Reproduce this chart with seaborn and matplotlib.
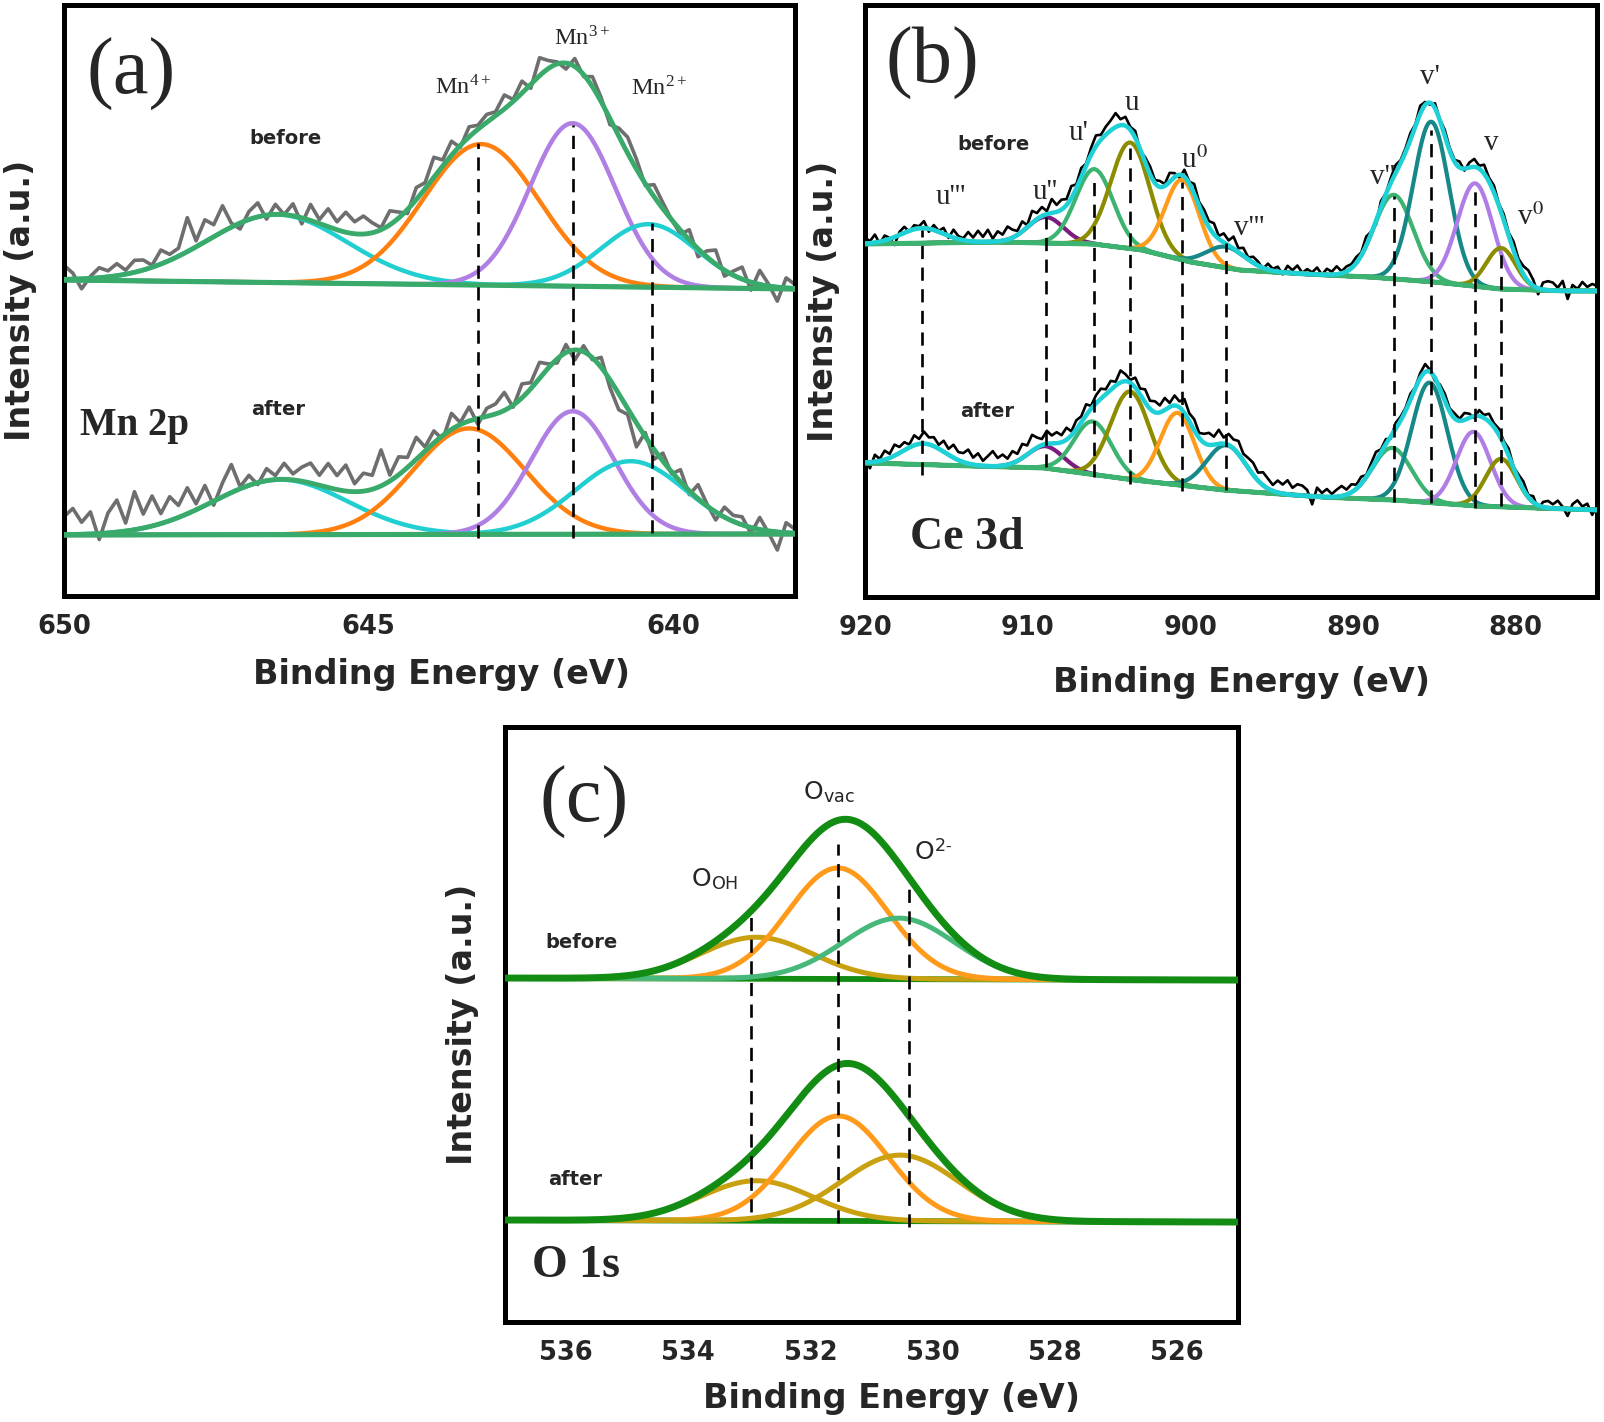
import numpy as np
import pandas as pd
import matplotlib
matplotlib.use('Agg')
import matplotlib.pyplot as plt
import seaborn as sns

# ---------------- panel (a): Mn 2p ----------------
MN_XLIM = (650, 638)
MN_TICKS = [650, 645, 640]
MN_BG_X = [650, 638]
MN_BG_BEFORE = [316, 307]
MN_BG_AFTER = [61, 62]
MN_CENTER_BEFORE = [646.5, 643.15, 641.65, 640.4]
MN_AMP_BEFORE = [68, 141, 163, 63]
MN_SIGMA_BEFORE = [1.15, 0.95, 0.70, 0.78]
MN_CENTER_AFTER = [646.45, 643.35, 641.65, 640.7]
MN_AMP_AFTER = [55, 106, 123, 73]
MN_SIGMA_AFTER = [1.1, 0.92, 0.68, 0.9]
MN_COLORS = ['#22cfd0', '#ff800e', '#b07fe4', '#22cfd0']
MN_RES_BEFORE = [14, 6, -10, 2, 10, 6, 12,
                 4, 12, 10, 2, 14, 6, 8,
                 34, 6, 22, 12, 26, 4, -6,
                 8, 14, -4, 10, 0, 12, -6,
                 16, 4, 18, 8, 20, 12, 18,
                 10, 2, 14, 6, -4, 12, 6,
                 20, 6, 14, -2, 10, 4, 8,
                 4, 14, 2, 12, -4, 18, 8,
                 2, -6, 8, -2, 10, 4, -6,
                 8, 16, 10, -2, 12, 6, 0,
                 -4, 10, -8, 6, 14, -6, 4,
                 12, -8, 14, 2, -14, 10, 4]
MN_RES_AFTER = [18, 26, 12, 22, -6, 20, 32,
                8, 38, 14, 30, 10, 24, 12,
                26, 6, 20, -4, 14, 28, 2,
                10, -2, 12, 4, 16, 6, 14,
                20, 10, 24, 14, 26, 8, 18,
                14, 36, 6, 18, 10, 22, 4,
                12, -4, 16, 2, 14, -6, 8,
                10, 18, -2, 14, 6, 16, 4,
                -4, 8, -10, 6, -2, 10, -8,
                -16, -6, -24, 4, -10, 8, -2,
                12, -4, 14, 2, -8, 10, 6,
                8, -6, 12, -2, -18, 10, 4]
MN_DASH_X = [643.2, 641.65, 640.35]
MN_DASH_LO = [58, 58, 63]
MN_DASH_HI = [453, 471, 373]

# ---------------- panel (b): Ce 3d ----------------
CE_XLIM = (920, 875)
CE_TICKS = [920, 910, 900, 890, 880]
CE_MINOR = [915, 905, 895, 885]
CE_BG_X_BEFORE = [920, 912, 906, 903, 900, 897, 893, 889, 885, 881, 877, 875]
CE_BG_BEFORE = [353, 355, 353, 347, 335, 327, 323, 320, 315, 308, 306, 306]
CE_BG_X_AFTER = [920, 909, 903.5, 898, 892, 887.5, 882.5, 875]
CE_BG_AFTER = [134, 129, 117, 107, 100, 97, 91, 87]
CE_NAMES = ["u'''", "u''", "u'", "u", "u$^{0}$", "v'''", "v''", "v'", "v", "v$^{0}$"]
CE_CENTER_BEFORE = [916.5, 908.9, 905.9, 903.7, 900.5, 897.8, 887.5, 885.2, 882.5, 880.9]
CE_AMP_BEFORE = [15, 26, 75, 106, 80, 21, 84, 160, 103, 41]
CE_SIGMA_BEFORE = [1.3, 1.1, 1.15, 1.2, 1.05, 1.2, 1.2, 1.1, 1.1, 0.9]
CE_CENTER_AFTER = [916.4, 908.9, 906.0, 903.7, 900.8, 897.8, 887.6, 885.3, 882.6, 880.9]
CE_AMP_AFTER = [21, 22, 53, 88, 72, 45, 52, 120, 74, 48]
CE_SIGMA_AFTER = [1.3, 1.1, 1.15, 1.2, 1.05, 1.2, 1.2, 1.1, 1.05, 0.95]
CE_COLORS = ['#45e0a8', '#7d1b7e', '#3cb371', '#8c8c00', '#ff9a1a',
             '#178888', '#3cb371', '#178888', '#b07de6', '#8c8c00']
CE_RES_BEFORE = [6, 2, 8, -2, 5, 1, -8, 3, 6, -1,
                 4, 2, 7, -3, 5, 1, 6, -2, 8, 3,
                 2, 9, 4, 11, 5, 12, 3, 10, 6, 13,
                 8, 4, 10, 2, 12, 6, 9, 3, 14, 7,
                 10, 6, 12, 4, 9, 2, 7, 11, 5, 8,
                 10, 14, 6, 9, 3, 7, -2, 5, 8, 3,
                 6, 2, 9, 4, -3, 7, 2, 10, 4, 8,
                 6, 11, 3, 9, 5, 12, 4, 8, 2, 6,
                 4, -1, 6, 2, 5, -2, 7, 3, 8, 1,
                 5, 2, 7, 0, 6, 3, 8, 2, 5, 4,
                 6, 3, 9, 2, -4, 6, 1, 5, 8, 3,
                 4, 7, 2, 8, 3, -2, 5, 1, 6, 3,
                 2, 6, -2, 5, 8, 3, 9, 4, 7, 2,
                 6, 3, 9, 5, 8, 11, 6, -6, 7, 9,
                 8, 3, 10, -8, 6, 2, 9, 4, 7, 5]
CE_RES_AFTER = [4, -6, 7, 2, 9, 4, 11, 6, 8, 3,
                10, 5, 12, 7, 9, 4, 11, 6, 13, 8,
                9, 14, 7, 12, 5, 10, 15, 8, 11, 6,
                12, 7, 14, 9, 16, 10, 6, 13, 8, 11,
                7, 12, 4, 9, 6, 11, 3, 8, 10, 5,
                9, 4, 12, 7, 3, 10, 6, 13, 8, 11,
                7, 12, 4, 10, 6, 14, 8, 11, 5, 9,
                12, 8, 14, 6, 11, 9, 13, 7, 10, 12,
                8, 13, 10, 6, 12, 9, 14, 7, 11, 10,
                6, -8, 9, 4, 8, 3, 7, 10, 5, 8,
                4, 7, 2, 6, 9, 3, 5, -2, 6, 4,
                3, 6, 1, 5, 8, 2, -3, 4, 7, 3,
                5, 2, 7, 4, -2, 6, 3, 8, 4, 6,
                3, 7, 1, 5, 8, 2, 6, -4, 5, 7,
                4, 8, 2, -7, 5, 9, 3, 6, -5, 4]
CE_DASH_X = [916.5, 908.9, 905.9, 903.7, 900.5, 897.8, 887.5, 885.2, 882.5, 880.9]
CE_DASH_LO = [122, 130, 120, 113, 106, 107, 95, 94, 89, 91]
CE_DASH_HI = [367, 380, 422, 449, 415, 354, 401, 467, 413, 348]
CE_LABEL_X = [914.75, 908.9, 906.85, 903.6, 899.75, 896.4, 888.2, 885.3, 881.5, 879.1]
CE_LABEL_Y = [400, 405, 464, 494, 437, 369, 420, 520, 454, 380]

# ---------------- panel (c): O 1s ----------------
O_XLIM = (537, 525)
O_TICKS = [536, 534, 532, 530, 528, 526]
O_BG_X = [537, 525]
O_BG_BEFORE = [344, 342]
O_BG_AFTER = [102, 100]
O_CENTER_BEFORE = [532.88, 531.55, 530.55]
O_AMP_BEFORE = [41.5, 111, 61]
O_SIGMA_BEFORE = [0.91, 0.82, 0.91]
O_COLORS_BEFORE = ['#c9a010', '#ff9a1a', '#45b87a']
O_CENTER_AFTER = [532.88, 531.54, 530.53]
O_AMP_AFTER = [40, 105, 66]
O_SIGMA_AFTER = [0.91, 0.82, 0.95]
O_COLORS_AFTER = ['#c9a010', '#ff9a1a', '#c9a010']
O_DASH_X = [532.97, 531.54, 530.39]
O_DASH_LO = [110, 99, 95]
O_DASH_HI = [411, 478, 434]

SANS = 'DejaVu Sans'
SERIF = 'Liberation Serif'
DASH = (0, (5, 3.2))


def gauss(x, c, a, s):
    return a * np.exp(-0.5 * ((x - c) / s) ** 2)


def background(x, bg_x, bg_y):
    bx = np.asarray(bg_x, dtype=float)
    by = np.asarray(bg_y, dtype=float)
    order = np.argsort(bx)
    return np.interp(x, bx[order], by[order])


def line(ax, x, y, color, lw, z):
    df = pd.DataFrame({'x': x, 'y': y})
    sns.lineplot(data=df, x='x', y='y', ax=ax, color=color, lw=lw,
                 estimator=None, sort=False, zorder=z)


def spectrum(ax, xlim, bg_x, bg_y, centers, amps, sigmas, colors, res,
             raw_color, raw_lw, env_color, env_lw, bg_color, bg_lw, comp_lw,
             bg_on_top=True):
    grid = np.linspace(xlim[0], xlim[1], 700)
    bg = background(grid, bg_x, bg_y)
    comps = [gauss(grid, c, a, s) for c, a, s in zip(centers, amps, sigmas)]
    env = bg + np.sum(comps, axis=0)
    if res is not None:
        rx = np.linspace(xlim[0], xlim[1], len(res))
        rbg = background(rx, bg_x, bg_y)
        renv = rbg + np.sum([gauss(rx, c, a, s) for c, a, s in zip(centers, amps, sigmas)], axis=0)
        line(ax, rx, renv + np.asarray(res), raw_color, raw_lw, 2)
    for comp, col in zip(comps, colors):
        line(ax, grid, bg + comp, col, comp_lw, 3)
    line(ax, grid, bg, bg_color, bg_lw, 4 if bg_on_top else 2.5)
    line(ax, grid, env, env_color, env_lw, 5)


def style_axis(ax, xlim, ylim, ticks, xlabel_pos, ylabel_x):
    ax.set_xlim(*xlim)
    ax.set_ylim(*ylim)
    ax.set_xticks(ticks)
    ax.set_xticklabels([str(t) for t in ticks])
    ax.set_yticks([])
    ax.tick_params(axis='x', which='major', direction='in', length=14, width=3,
                   labelsize=18.5, pad=13)
    for lbl in ax.get_xticklabels():
        lbl.set_fontweight('bold')
        lbl.set_family(SANS)
    for sp in ax.spines.values():
        sp.set_visible(True)
        sp.set_linewidth(3.6)
        sp.set_color('black')
    ax.set_xlabel('Binding Energy (eV)', fontsize=24, fontweight='bold', family=SANS)
    ax.set_ylabel('Intensity (a.u.)', fontsize=24, fontweight='bold', family=SANS)
    ax.xaxis.set_label_coords(*xlabel_pos)
    ax.yaxis.set_label_coords(ylabel_x, 0.5)


sns.set_theme(style='white')
plt.rcParams['font.family'] = [SANS]
plt.rcParams['mathtext.fontset'] = 'stix'

fig = plt.figure(figsize=(16.04, 14.22), dpi=100)
ax_a = fig.add_axes([0.0399, 0.5809, 0.4557, 0.4156])
ax_b = fig.add_axes([0.5393, 0.5802, 0.4564, 0.4163])
ax_c = fig.add_axes([0.3148, 0.0703, 0.4570, 0.4184])

# ---- (a) ----
for bg_y, cen, amp, sig, res in [
        (MN_BG_BEFORE, MN_CENTER_BEFORE, MN_AMP_BEFORE, MN_SIGMA_BEFORE, MN_RES_BEFORE),
        (MN_BG_AFTER, MN_CENTER_AFTER, MN_AMP_AFTER, MN_SIGMA_AFTER, MN_RES_AFTER)]:
    spectrum(ax_a, MN_XLIM, MN_BG_X, bg_y, cen, amp, sig, MN_COLORS, res,
             '#6e6e6e', 2.6, '#3aaa6a', 3.5, '#3aaa6a', 3.7, 3.2)
ax_a.vlines(MN_DASH_X, MN_DASH_LO, MN_DASH_HI, colors='black', linestyles=[DASH], lw=1.9, zorder=6)
style_axis(ax_a, MN_XLIM, (0, 591), MN_TICKS, (0.516, -0.105), -0.037)
ax_a.text(648.9, 522, '(a)', family=SERIF, fontsize=58, ha='center', va='center')
ax_a.text(643.45, 509, r'Mn$^{\mathregular{4+}}$', family=SERIF, fontsize=17.5, ha='center', va='center')
ax_a.text(641.49, 558, r'Mn$^{\mathregular{3+}}$', family=SERIF, fontsize=17.5, ha='center', va='center')
ax_a.text(640.23, 508, r'Mn$^{\mathregular{2+}}$', family=SERIF, fontsize=17.5, ha='center', va='center')
ax_a.text(646.36, 457, 'before', fontsize=14, fontweight='bold', ha='center', va='center')
ax_a.text(646.49, 186, 'after', fontsize=14, fontweight='bold', ha='center', va='center')
ax_a.text(649.74, 170, 'Mn 2p', family=SERIF, fontsize=28, fontweight='bold', ha='left', va='center')

# ---- (b) ----
for bg_x, bg_y, cen, amp, sig, res in [
        (CE_BG_X_BEFORE, CE_BG_BEFORE, CE_CENTER_BEFORE, CE_AMP_BEFORE, CE_SIGMA_BEFORE, CE_RES_BEFORE),
        (CE_BG_X_AFTER, CE_BG_AFTER, CE_CENTER_AFTER, CE_AMP_AFTER, CE_SIGMA_AFTER, CE_RES_AFTER)]:
    spectrum(ax_b, CE_XLIM, bg_x, bg_y, cen, amp, sig, CE_COLORS, res,
             'black', 1.9, '#1fd0d6', 3.2, '#3cb371', 3.6, 3.0)
ax_b.vlines(CE_DASH_X, CE_DASH_LO, CE_DASH_HI, colors='black', linestyles=[DASH], lw=1.9, zorder=6)
style_axis(ax_b, CE_XLIM, (0, 592), CE_TICKS, (0.514, -0.117), -0.034)
ax_b.set_xticks(CE_MINOR, minor=True)
ax_b.tick_params(axis='x', which='minor', direction='in', length=7, width=3)
ax_b.text(915.86, 534, '(b)', family=SERIF, fontsize=58, ha='center', va='center')
for name, lx, ly in zip(CE_NAMES, CE_LABEL_X, CE_LABEL_Y):
    ax_b.text(lx, ly, name, family=SERIF, fontsize=21, ha='center', va='center')
ax_b.text(912.1, 452, 'before', fontsize=14, fontweight='bold', ha='center', va='center')
ax_b.text(912.5, 185, 'after', fontsize=14, fontweight='bold', ha='center', va='center')
ax_b.text(913.77, 59, 'Ce 3d', family=SERIF, fontsize=33, fontweight='bold', ha='center', va='center')

# ---- (c) ----
for bg_y, cen, amp, sig, cols in [
        (O_BG_BEFORE, O_CENTER_BEFORE, O_AMP_BEFORE, O_SIGMA_BEFORE, O_COLORS_BEFORE),
        (O_BG_AFTER, O_CENTER_AFTER, O_AMP_AFTER, O_SIGMA_AFTER, O_COLORS_AFTER)]:
    spectrum(ax_c, O_XLIM, O_BG_X, bg_y, cen, amp, sig, cols, None,
             None, 0, '#138c13', 5.0, '#138c13', 4.2, 3.6, bg_on_top=False)
ax_c.vlines(O_DASH_X, O_DASH_LO, O_DASH_HI, colors='black', linestyles=[DASH], lw=1.9, zorder=6)
style_axis(ax_c, O_XLIM, (0, 595), O_TICKS, (0.528, -0.1), -0.035)
ax_c.text(535.71, 520, '(c)', family=SERIF, fontsize=58, ha='center', va='center')
ax_c.text(531.69, 530, r'O$_{\mathregular{vac}}$', fontsize=18, ha='center', va='center')
ax_c.text(533.57, 443, r'O$_{\mathregular{OH}}$', fontsize=18, ha='center', va='center')
ax_c.text(529.99, 470, r'O$^{\mathregular{2\text{-}}}$', fontsize=18, ha='center', va='center')
ax_c.text(535.75, 380, 'before', fontsize=14, fontweight='bold', ha='center', va='center')
ax_c.text(535.85, 143, 'after', fontsize=14, fontweight='bold', ha='center', va='center')
ax_c.text(535.84, 56, 'O 1s', family=SERIF, fontsize=33, fontweight='bold', ha='center', va='center')

for ax in (ax_a, ax_b, ax_c):
    ax.set_facecolor('white')

fig.savefig('out.png', dpi=100, facecolor='white')
